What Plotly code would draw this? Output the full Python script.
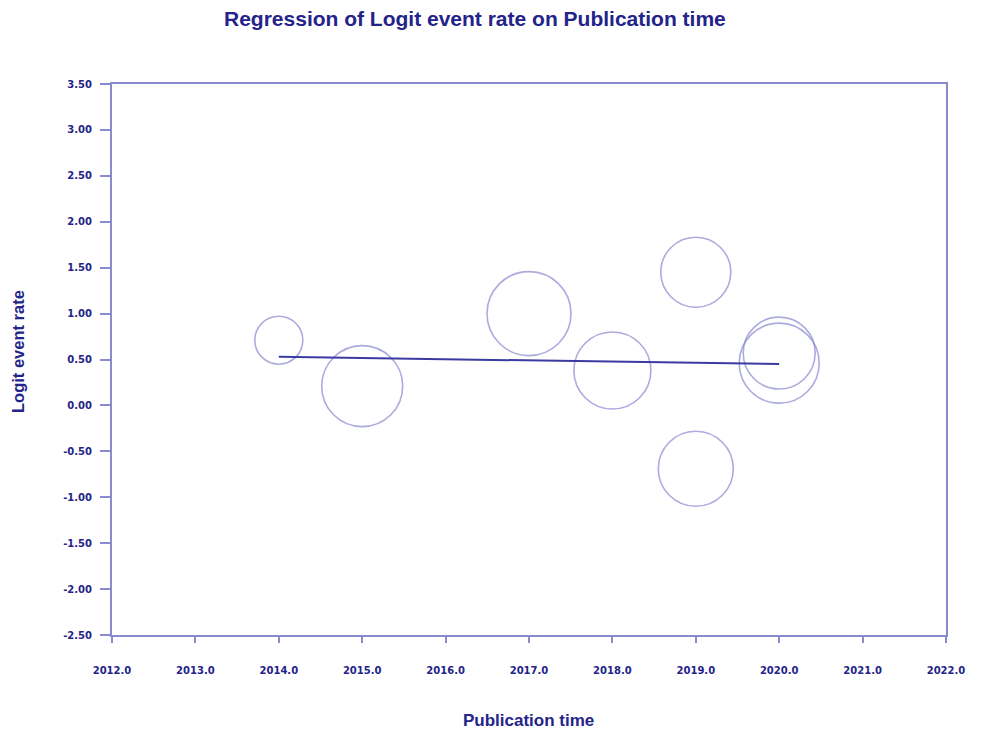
import plotly.graph_objects as go

# Study-level data: publication year, logit event rate, relative weight (%)
years = [2014, 2015, 2017, 2018, 2019, 2019, 2020, 2020]
logit_rates = [0.71, 0.21, 1.00, 0.38, 1.45, -0.69, 0.57, 0.46]
weights = [5.24, 14.93, 16.05, 13.49, 11.15, 12.80, 11.79, 14.56]

# Fitted meta-regression line (endpoints over the observed range)
fit_years = [2014, 2020]
fit_values = [0.53, 0.45]

# Axis ticks
x_ticks = [2012, 2013, 2014, 2015, 2016, 2017, 2018, 2019, 2020, 2021, 2022]
y_ticks = [3.5, 3.0, 2.5, 2.0, 1.5, 1.0, 0.5, 0.0, -0.5, -1.0, -1.5, -2.0, -2.5]

TEXT = "#23238a"
AXIS = "#8a8ad0"
CIRCLE = "#8888d0"
LINE = "#3a3aa0"
FONT = "Arial, Liberation Sans, sans-serif"
TICK_FONT = "DejaVu Sans, Verdana, sans-serif"

fig = go.Figure()

fig.add_trace(go.Scatter(
    x=years, y=logit_rates, mode="markers",
    marker=dict(
        symbol="circle-open",
        size=weights,
        sizemode="area",
        sizeref=2 * sum(weights) / 43959,
        color=CIRCLE,
        line=dict(width=1.6, color=CIRCLE),
    ),
    hoverinfo="x+y",
    showlegend=False,
))

fig.add_trace(go.Scatter(
    x=fit_years, y=fit_values, mode="lines",
    line=dict(color=LINE, width=2),
    showlegend=False,
))

fig.update_layout(
    width=983, height=733,
    margin=dict(l=112, r=37, t=84, b=98),
    paper_bgcolor="white",
    plot_bgcolor="white",
    font=dict(family=FONT, color=TEXT),
    showlegend=False,
    annotations=[
        dict(text="<b>Regression of Logit event rate on Publication time</b>",
             xref="paper", yref="paper", x=(475 - 112) / 834, y=1 + (84 - 19) / 551,
             xanchor="center", yanchor="middle", showarrow=False,
             font=dict(size=21, color=TEXT, family=FONT)),
        dict(text="<b>Publication time</b>",
             xref="paper", yref="paper", x=(528 - 112) / 834, y=-(720 - 635) / 551,
             xanchor="center", yanchor="middle", showarrow=False,
             font=dict(size=17, color=TEXT, family=FONT)),
        dict(text="<b>Logit event rate</b>",
             xref="paper", yref="paper", x=(18 - 112) / 834, y=(635 - 352) / 551,
             xanchor="center", yanchor="middle", showarrow=False, textangle=-90,
             font=dict(size=16.5, color=TEXT, family=FONT)),
    ],
)

fig.update_xaxes(
    range=[2012, 2022],
    tickvals=x_ticks,
    ticktext=[f"<b>{v:.1f}</b>" for v in x_ticks],
    ticks="outside", ticklen=6, tickcolor=AXIS, tickwidth=2,
    showline=True, linecolor=AXIS, linewidth=2, mirror=True,
    showgrid=False, zeroline=False,
    tickfont=dict(size=10, color=TEXT, family=TICK_FONT),
    ticklabelstandoff=19,
)
fig.update_yaxes(
    range=[-2.5, 3.5],
    tickvals=y_ticks,
    ticktext=[f"<b>{v:.2f}</b>" for v in y_ticks],
    ticks="outside", ticklen=10, tickcolor=AXIS, tickwidth=2,
    showline=True, linecolor=AXIS, linewidth=2, mirror=True,
    showgrid=False, zeroline=False,
    tickfont=dict(size=10, color=TEXT, family=TICK_FONT),
    ticklabelstandoff=6,
)

fig.write_html("out.html")
